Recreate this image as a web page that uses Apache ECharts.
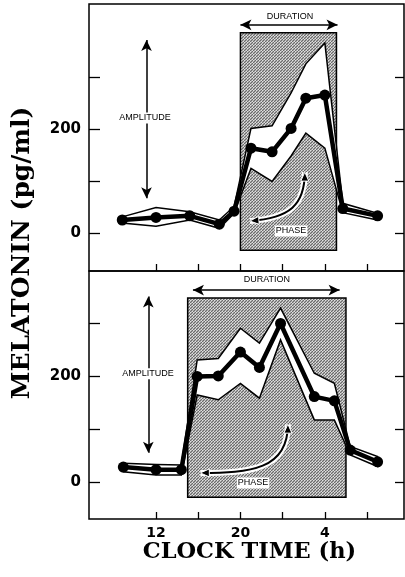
<!DOCTYPE html>
<html><head><meta charset="utf-8">
<script src="https://cdn.jsdelivr.net/npm/echarts@6/dist/echarts.min.js"></script>
<style>html,body{margin:0;padding:0;background:#fff}#c{width:405px;height:577px}</style>
</head><body><div id="c"></div>
<script>
// ---- data (clock time in hours; values after 24 h are next-day hours) ----
const topTimes = [8.8, 12, 15.2, 18, 19.4, 21, 23, 24.8, 26.2, 28, 29.7, 33];
const topMean  = [25, 30, 33, 17, 42, 163, 156, 201, 259, 265, 47, 33];
const topUpper = [31, 49, 41, 25, 51, 201, 206, 269, 325, 365, 57, 38];
const topLower = [19, 13, 25, 9, 38, 124, 99, 148, 192, 163, 39, 25];
const topShade = [20, 29.1];
const topShadeY = [-33, 385];

const botTimes = [8.9, 12, 14.4, 15.9, 17.9, 20, 21.8, 23.8, 27, 28.9, 30.4, 33];
const botMean  = [28, 23, 23, 199, 200, 245, 216, 299, 161, 153, 60, 38];
const botUpper = [35, 33, 32, 230, 233, 290, 262, 328, 205, 186, 67, 48];
const botLower = [19, 13, 13, 164, 155, 186, 158, 268, 117, 117, 51, 29];
const botShade = [15, 30];
const botShadeY = [-29, 347];

const xTicks = [12, 16, 20, 24, 28, 32];
const xLabels = [12, 20, 28];
const yTicks = [0, 100, 200, 300];
const yLabels = [0, 200];

// ---- styling helpers ----
const pc = document.createElement('canvas'); pc.width = 3; pc.height = 3;
const pctx = pc.getContext('2d');
pctx.fillStyle = '#b0b0b0'; pctx.fillRect(0, 0, 3, 3);
pctx.fillStyle = '#6a6a6a'; pctx.fillRect(0, 0, 1, 1); pctx.fillRect(2, 1, 1, 1); pctx.fillRect(1, 2, 1, 1);
pctx.fillStyle = '#e0e0e0'; pctx.fillRect(1, 0, 1, 1); pctx.fillRect(0, 2, 1, 1);

const chart = echarts.init(document.getElementById('c'), null, {renderer: 'canvas'});

function xAxisDef(gi, showLabels) {
  return {
    type: 'value', gridIndex: gi, min: 5.65, max: 35.5, position: 'bottom',
    axisLine: {show: false, onZero: false},
    axisTick: {show: true, inside: true, length: 7, customValues: xTicks, lineStyle: {color: '#000', width: 1.3}},
    axisLabel: showLabels ? {show: true, customValues: xLabels, formatter: v => String(v % 24),
      color: '#000', fontFamily: 'DejaVu Sans', fontWeight: 'bold', fontSize: 14, margin: 7} : {show: false},
    splitLine: {show: false},
    name: showLabels ? 'CLOCK TIME (h)' : '',
    nameLocation: 'middle', nameGap: 22,
    nameTextStyle: {color: '#000', fontFamily: 'DejaVu Serif', fontWeight: 'bold', fontSize: 22.5, padding: [0, 0, 0, 6]}
  };
}
function yAxisDef(gi, min, max, right) {
  return {
    type: 'value', gridIndex: gi, min: min, max: max, position: right ? 'right' : 'left',
    axisLine: {show: false, onZero: false},
    axisTick: {show: true, inside: true, length: right ? 9 : 11, customValues: yTicks, lineStyle: {color: '#000', width: 1.3}},
    axisLabel: right ? {show: false} : {show: true, customValues: yLabels, color: '#000',
      fontFamily: 'DejaVu Sans', fontWeight: 'bold', fontSize: 15, margin: 8},
    splitLine: {show: false}
  };
}

function bandSeries(ax, times, upper, lower) {
  return {
    type: 'custom', xAxisIndex: ax, yAxisIndex: ax * 2, z: 3, silent: true,
    data: [[times[0], upper[0]]],
    renderItem: function (params, api) {
      const pts = [];
      for (let i = 0; i < times.length; i++) pts.push(api.coord([times[i], upper[i]]));
      for (let i = times.length - 1; i >= 0; i--) pts.push(api.coord([times[i], lower[i]]));
      return {type: 'polygon', shape: {points: pts}, style: {fill: '#fff', stroke: '#000', lineWidth: 1.5}};
    }
  };
}
function meanSeries(ax, times, mean) {
  return {
    type: 'line', xAxisIndex: ax, yAxisIndex: ax * 2, z: 4, silent: true,
    data: times.map((t, i) => [t, mean[i]]),
    symbol: 'circle', symbolSize: 11, showSymbol: true,
    lineStyle: {color: '#000', width: 4.5}, itemStyle: {color: '#000'}
  };
}
const txt = {show: true, position: 'inside', formatter: '{b}', color: '#000', fontFamily: 'Liberation Sans',
  fontSize: 9, backgroundColor: '#fff', padding: [1, 1]};
function annotSeries(ax, shade, shadeY, ampX, ampTop, ampBot, durY, durX, labels) {
  return {
    type: 'line', xAxisIndex: ax, yAxisIndex: ax * 2, z: 2, silent: true, data: [],
    markArea: {silent: true, z: 1,
      itemStyle: {color: {image: pc, repeat: 'repeat'}, borderColor: '#000', borderWidth: 1.5},
      data: [[{coord: [shade[0], shadeY[0]]}, {coord: [shade[1], shadeY[1]]}]]},
    markLine: {silent: true, symbol: ['arrow', 'arrow'], symbolSize: [8, 11],
      lineStyle: {color: '#000', width: 1.5, type: 'solid'}, label: {show: false},
      data: [
        [{coord: [durX[0], durY]}, {coord: [durX[1], durY]}],
        [{coord: [ampX, ampTop]}, {coord: [ampX, ampBot]}]
      ]},
    markPoint: {silent: true, symbol: 'rect', symbolSize: 1, itemStyle: {color: 'rgba(0,0,0,0)'},
      label: txt, z: 10,
      data: labels.map(l => ({name: l[0], coord: [l[1], l[2]]}))}
  };
}
function phaseSeries(ax, p) {
  return {
    type: 'custom', xAxisIndex: ax, yAxisIndex: ax * 2, z: 6, silent: true,
    data: [p[0]],
    renderItem: function (params, api) {
      const s = api.coord(p[0]), c1 = api.coord(p[1]), c2 = api.coord(p[2]), e = api.coord(p[3]);
      function head(tip, from) {
        const dx = tip[0] - from[0], dy = tip[1] - from[1], L = Math.hypot(dx, dy);
        const ux = dx / L, uy = dy / L, bx = tip[0] - ux * 9, by = tip[1] - uy * 9;
        return {type: 'polygon', shape: {points: [tip, [bx - uy * 4, by + ux * 4], [bx + uy * 4, by - ux * 4]]},
          style: {fill: '#000', stroke: '#fff', lineWidth: 1}};
      }
      const shape = {x1: s[0], y1: s[1], cpx1: c1[0], cpy1: c1[1], cpx2: c2[0], cpy2: c2[1], x2: e[0], y2: e[1]};
      return {type: 'group', children: [
        {type: 'bezierCurve', shape: shape, style: {stroke: '#fff', lineWidth: 6, fill: null}},
        {type: 'bezierCurve', shape: shape, style: {stroke: '#000', lineWidth: 2, fill: null}},
        head(s, c1), head(e, c2)
      ]};
    }
  };
}

chart.setOption({
  animation: false,
  backgroundColor: '#fff',
  grid: [
    {left: 89, right: 1, top: 4, height: 267, show: true, borderColor: '#000', borderWidth: 1.5, backgroundColor: 'transparent'},
    {left: 89, right: 1, top: 271, height: 248, show: true, borderColor: '#000', borderWidth: 1.5, backgroundColor: 'transparent'}
  ],
  xAxis: [xAxisDef(0, false), xAxisDef(1, true)],
  yAxis: [yAxisDef(0, -73, 440, false), yAxisDef(0, -73, 440, true),
          yAxisDef(1, -70, 398, false), yAxisDef(1, -70, 398, true)],
  graphic: [{type: 'text', x: 22, y: 253, rotation: Math.PI / 2, z: 10,
    style: {text: 'MELATONIN (pg/ml)', fill: '#000', font: 'bold 25px "DejaVu Serif"', align: 'center', verticalAlign: 'middle'}}],
  series: [
    annotSeries(0, topShade, topShadeY, 11.1, 371, 67, 400, [20, 29.2],
      [['DURATION', 24.7, 415], ['AMPLITUDE', 10.96, 221], ['PHASE', 24.8, 4]]),
    bandSeries(0, topTimes, topUpper, topLower),
    meanSeries(0, topTimes, topMean),
    phaseSeries(0, [[26.1, 117], [26.1, 54], [24.7, 29], [20.9, 23]]),
    annotSeries(1, botShade, botShadeY, 11.27, 350, 55, 362, [15.5, 29.4],
      [['DURATION', 22.5, 381], ['AMPLITUDE', 11.24, 204], ['PHASE', 21.2, -2]]),
    bandSeries(1, botTimes, botUpper, botLower),
    meanSeries(1, botTimes, botMean),
    phaseSeries(1, [[24.5, 109], [24.5, 23], [20.9, 17], [16.2, 17]])
  ]
});
</script></body></html>
